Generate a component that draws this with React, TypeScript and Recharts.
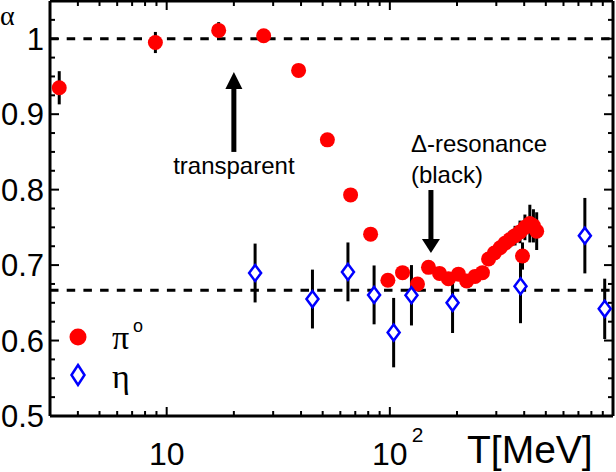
import { ScatterChart, Scatter, XAxis, YAxis, ErrorBar, ReferenceLine, ReferenceDot, Legend } from 'recharts';

// pi0 (red circles): photon energy T [MeV], alpha, error
const pi0T = [3.3, 8.9, 17.1, 27.2, 39, 52.5, 66.7, 82, 98, 114, 133, 149, 167, 183, 203, 221, 241, 260, 277, 294, 312, 328, 345, 364, 383, 403, 424, 440, 455, 393];
const pi0Alpha = [0.935, 0.995, 1.011, 1.004, 0.958, 0.866, 0.793, 0.741, 0.68, 0.69, 0.675, 0.697, 0.689, 0.682, 0.688, 0.679, 0.685, 0.69, 0.708, 0.716, 0.723, 0.729, 0.734, 0.739, 0.744, 0.75, 0.755, 0.752, 0.745, 0.712];
const pi0Err = [0.022, 0.014, 0.011, 0, 0, 0, 0, 0, 0, 0, 0, 0, 0, 0, 0, 0, 0, 0, 0, 0.004, 0.006, 0.008, 0.011, 0.013, 0.015, 0.017, 0.025, 0.022, 0.025, 0.018];

// eta (blue diamonds)
const etaT = [24.9, 45, 64.9, 85, 104, 125, 191, 385, 748, 918];
const etaAlpha = [0.6895, 0.655, 0.691, 0.6605, 0.6105, 0.66, 0.65, 0.672, 0.739, 0.642];
const etaErr = [0.039, 0.039, 0.039, 0.039, 0.046, 0.04, 0.04, 0.049, 0.05, 0.04];

const xTicks = [4, 5, 6, 7, 8, 9, 10, 20, 30, 40, 50, 60, 70, 80, 90, 100, 200, 300, 400, 500, 600, 700, 800, 900];
const yTicks = [0.5, 0.525, 0.55, 0.575, 0.6, 0.625, 0.65, 0.675, 0.7, 0.725, 0.75, 0.775, 0.8, 0.825, 0.85, 0.875, 0.9, 0.925, 0.95, 0.975, 1, 1.025];

const pi0Data = pi0T.map((t, i) => ({ t, a: pi0Alpha[i], err: pi0Err[i] }));
const etaData = etaT.map((t, i) => ({ t, a: etaAlpha[i], err: etaErr[i] }));

const W = 616;
const H = 472;
const LEFT = 50;
const RIGHT = 613;
const TOP = 1;
const BOTTOM = 416;
const SANS = '"Liberation Sans", Arial, sans-serif';
const SERIF = '"Liberation Serif", "DejaVu Serif", serif';

const XTick = (props: any) => {
  const { x, payload } = props;
  const v = payload.value;
  const major = v === 10 || v === 100;
  const len = major ? 9 : 5;
  return (
    <g>
      <line x1={x} x2={x} y1={BOTTOM} y2={BOTTOM - len} stroke="#000" strokeWidth={2} />
      <line x1={x} x2={x} y1={TOP} y2={TOP + len} stroke="#000" strokeWidth={2} />
      {major && (
        <text x={x} y={465} textAnchor="middle" fontSize={32} fontFamily={SANS} fill="#000">10</text>
      )}
      {v === 100 && (
        <text x={x + 22} y={442} fontSize={21} fontFamily={SANS} fill="#000">2</text>
      )}
    </g>
  );
};

const YTick = (props: any) => {
  const { y, payload } = props;
  const v = payload.value;
  const major = Math.abs(v * 10 - Math.round(v * 10)) < 1e-6;
  const len = major ? 9 : 5;
  return (
    <g>
      <line x1={LEFT} x2={LEFT + len} y1={y} y2={y} stroke="#000" strokeWidth={2} />
      <line x1={RIGHT} x2={RIGHT - len} y1={y} y2={y} stroke="#000" strokeWidth={2} />
      {major && (
        <text x={44} y={y} dy="0.36em" textAnchor="end" fontSize={31} fontFamily={SANS} fill="#000">
          {v === 1 ? '1' : v.toFixed(1)}
        </text>
      )}
    </g>
  );
};

const Circle = (props: any) => <circle cx={props.cx} cy={props.cy} r={7.5} fill="#ff0000" />;

const Diamond = (props: any) => {
  const { cx, cy } = props;
  return (
    <path
      d={`M${cx},${cy - 8}L${cx + 6},${cy}L${cx},${cy + 8}L${cx - 6},${cy}Z`}
      fill="#fff"
      stroke="#0000ff"
      strokeWidth={2.5}
    />
  );
};

const UpArrow = (props: any) => {
  const { cx, cy } = props;
  return (
    <g>
      <rect x={cx - 2.5} y={cy + 12} width={5} height={68} fill="#000" />
      <path d={`M${cx},${cy}L${cx + 8.5},${cy + 17}L${cx - 8.5},${cy + 17}Z`} fill="#000" />
    </g>
  );
};

const DownArrow = (props: any) => {
  const { cx, cy } = props;
  return (
    <g>
      <rect x={cx - 2.5} y={cy - 63} width={5} height={53} fill="#000" />
      <path d={`M${cx},${cy}L${cx + 9},${cy - 14}L${cx - 9},${cy - 14}Z`} fill="#000" />
    </g>
  );
};

const note = (text: string, anchor: 'start' | 'middle') => (props: any) => (
  <text x={props.cx} y={props.cy} textAnchor={anchor} fontSize={24} fontFamily={SANS} fill="#000">
    {text}
  </text>
);

const AlphaLabel = () => (
  <text x={0} y={25} fontSize={28} fontFamily={SERIF} fill="#000">α</text>
);

const TLabel = () => (
  <text x={467} y={463} fontSize={39} fontFamily={SANS} fill="#000">T[MeV]</text>
);

const LegendBox = () => (
  <svg width={110} height={100} style={{ display: 'block' }}>
    <circle cx={18} cy={29} r={8.5} fill="#ff0000" />
    <text x={52} y={41} fontSize={34} fontFamily={SERIF} fill="#000">π</text>
    <text x={73} y={24} fontSize={18} fontFamily={SANS} fill="#000">o</text>
    <path d="M18,57L24.5,67L18,77L11.5,67Z" fill="#fff" stroke="#0000ff" strokeWidth={2.5} />
    <text x={52} y={80} fontSize={34} fontFamily={SERIF} fill="#000">η</text>
  </svg>
);

export default function App() {
  return (
    <div style={{ position: 'absolute', left: 0, top: 0, width: W, height: H, background: '#fff', fontFamily: SANS }}>
      <ScatterChart width={W} height={H} margin={{ top: TOP, right: W - RIGHT, left: 0, bottom: 0 }}>
        <XAxis
          type="number"
          dataKey="t"
          scale="log"
          domain={[3, 1000]}
          allowDataOverflow
          ticks={xTicks}
          interval={0}
          tick={<XTick />}
          tickLine={false}
          axisLine={false}
          height={H - BOTTOM}
          label={<TLabel />}
        />
        <YAxis
          type="number"
          dataKey="a"
          domain={[0.5, 1.05]}
          allowDataOverflow
          ticks={yTicks}
          interval={0}
          tick={<YTick />}
          tickLine={false}
          axisLine={false}
          width={LEFT}
          label={<AlphaLabel />}
        />
        <ReferenceLine y={1} stroke="#000" strokeWidth={3} strokeDasharray="8.5 8.2" />
        <ReferenceLine y={0.6667} stroke="#000" strokeWidth={3} strokeDasharray="8.5 8.2" />
        <ReferenceDot x={20} y={0.956} r={0} shape={UpArrow} />
        <ReferenceDot x={20} y={0.821} r={0} shape={note('transparent', 'middle')} />
        <ReferenceDot x={152.8} y={0.716} r={0} shape={DownArrow} />
        <ReferenceDot x={124.3} y={0.85} r={0} shape={note('Δ-resonance', 'start')} />
        <ReferenceDot x={124.3} y={0.809} r={0} shape={note('(black)', 'start')} />
        <Scatter name="π0" data={pi0Data} shape={Circle} isAnimationActive={false}>
          <ErrorBar dataKey="err" direction="y" width={0} stroke="#000" strokeWidth={3} />
        </Scatter>
        <Scatter name="η" data={etaData} shape={Diamond} isAnimationActive={false}>
          <ErrorBar dataKey="err" direction="y" width={0} stroke="#000" strokeWidth={3} />
        </Scatter>
        <ReferenceLine x={3} stroke="#000" strokeWidth={3} />
        <ReferenceLine x={1000} stroke="#000" strokeWidth={3} />
        <ReferenceLine y={0.5} stroke="#000" strokeWidth={3} />
        <ReferenceLine y={1.05} stroke="#000" strokeWidth={3} />
        <Legend
          layout="vertical"
          align="center"
          verticalAlign="middle"
          content={<LegendBox />}
          wrapperStyle={{ left: 60, top: 308, width: 110, height: 100 }}
        />
      </ScatterChart>
    </div>
  );
}
